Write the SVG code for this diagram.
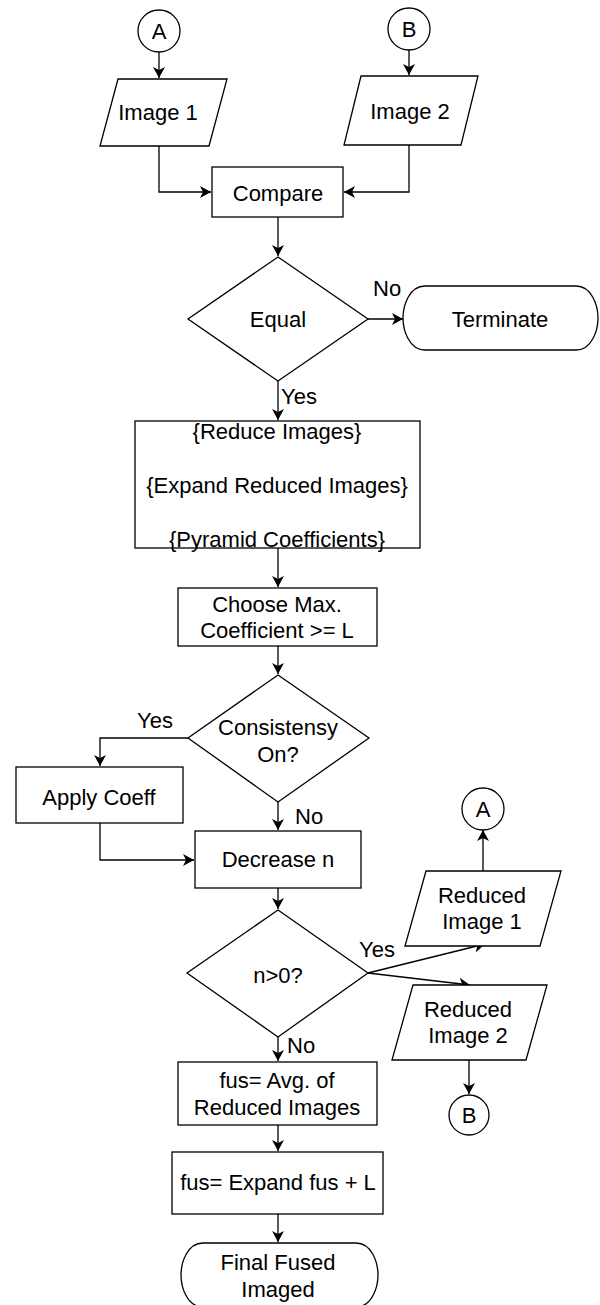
<svg xmlns="http://www.w3.org/2000/svg" width="600" height="1305" viewBox="0 0 600 1305">
<style>
.s{fill:#fff;stroke:#000;stroke-width:1.3}
.c{fill:none;stroke:#000;stroke-width:1.3}
text{font-family:"Liberation Sans",Arial,sans-serif;font-size:22px;fill:#000}
.m{text-anchor:middle}
</style>
<defs>
<marker id="ar" markerUnits="userSpaceOnUse" markerWidth="11" markerHeight="12" viewBox="0 0 11 12" refX="11" refY="6" orient="auto">
<path d="M0,0 L11,6 L0,12 L3,6 Z" fill="#000"/>
</marker>
</defs>
<g id="connectors" class="c">
<path d="M159,52 V78" marker-end="url(#ar)"/>
<path d="M409,50 V75" marker-end="url(#ar)"/>
<path d="M159,146 V192 H211" marker-end="url(#ar)"/>
<path d="M409,145 V192 H344" marker-end="url(#ar)"/>
<path d="M278,217 V256" marker-end="url(#ar)"/>
<path d="M368,319 H403" marker-end="url(#ar)"/>
<path d="M278,381 V420" marker-end="url(#ar)"/>
<path d="M278,548 V587" marker-end="url(#ar)"/>
<path d="M278,646 V674" marker-end="url(#ar)"/>
<path d="M188,738 H100 V766" marker-end="url(#ar)"/>
<path d="M278,802 V830" marker-end="url(#ar)"/>
<path d="M100,823 V860 H194" marker-end="url(#ar)"/>
<path d="M278,888 V909" marker-end="url(#ar)"/>
<path d="M368,973 L485,944" marker-end="url(#ar)"/>
<path d="M368,973 L470,985" marker-end="url(#ar)"/>
<path d="M483,871 V830" marker-end="url(#ar)"/>
<path d="M469,1060 V1094" marker-end="url(#ar)"/>
<path d="M278,1037 V1061" marker-end="url(#ar)"/>
<path d="M278,1125 V1151" marker-end="url(#ar)"/>
<path d="M278,1214 V1242" marker-end="url(#ar)"/>
</g>
<g id="labels">
<text x="373" y="296">No</text>
<text x="281" y="404">Yes</text>
<text x="137" y="728">Yes</text>
<text x="295" y="824">No</text>
<text x="359" y="957">Yes</text>
<text x="287" y="1053">No</text>
</g>
<g id="connA1"><circle class="s" cx="159" cy="31" r="21"/><text class="m" x="159" y="39">A</text></g>
<g id="connB1"><circle class="s" cx="409" cy="29" r="21"/><text class="m" x="409" y="37">B</text></g>
<g id="image1"><polygon class="s" points="118,79 227,79 209,146 100,146"/><text class="m" x="158" y="120">Image 1</text></g>
<g id="image2"><polygon class="s" points="361,76 478,76 461,145 344,145"/><text class="m" x="410" y="119">Image 2</text></g>
<g id="compare"><rect class="s" x="212" y="167" width="131" height="50"/><text class="m" x="278" y="201">Compare</text></g>
<g id="equal"><polygon class="s" points="278,257 368,319 278,381 188,319"/><text class="m" x="278" y="327">Equal</text></g>
<g id="terminate"><path class="s" d="M425,286 H576 C592,286 598,306 598,318 C598,330 592,350 576,350 H425 C409,350 403,330 403,318 C403,306 409,286 425,286 Z"/><text class="m" x="500" y="327">Terminate</text></g>
<g id="reduce"><rect class="s" x="135" y="421" width="285" height="127"/>
<text class="m" x="277" y="439">{Reduce Images}</text>
<text class="m" x="277" y="493">{Expand Reduced Images}</text>
<text class="m" x="277" y="547">{Pyramid Coefficients}</text></g>
<g id="choose"><rect class="s" x="178" y="588" width="199" height="58"/>
<text class="m" x="277" y="612">Choose Max.</text>
<text class="m" x="277" y="638">Coefficient &gt;= L</text></g>
<g id="consist"><polygon class="s" points="278,675 369,738 278,802 188,738"/>
<text class="m" x="278" y="735">Consistensy</text>
<text class="m" x="278" y="762">On?</text></g>
<g id="apply"><rect class="s" x="16" y="767" width="167" height="56"/><text class="m" x="99" y="805">Apply Coeff</text></g>
<g id="decrease"><rect class="s" x="195" y="831" width="166" height="57"/><text class="m" x="278" y="867">Decrease n</text></g>
<g id="ngt0"><polygon class="s" points="278,910 368,973 278,1037 187,973"/><text class="m" x="278" y="983">n&gt;0?</text></g>
<g id="connA2"><circle class="s" cx="483" cy="809" r="21"/><text class="m" x="483" y="817">A</text></g>
<g id="rimage1"><polygon class="s" points="426,871 561,871 540,946 405,946"/>
<text class="m" x="482" y="903">Reduced</text><text class="m" x="482" y="929">Image 1</text></g>
<g id="rimage2"><polygon class="s" points="413,985 547,985 526,1060 392,1060"/>
<text class="m" x="468" y="1017">Reduced</text><text class="m" x="468" y="1043">Image 2</text></g>
<g id="connB2"><circle class="s" cx="469" cy="1115" r="20"/><text class="m" x="469" y="1123">B</text></g>
<g id="avg"><rect class="s" x="178" y="1062" width="199" height="63"/>
<text class="m" x="277" y="1088">fus= Avg. of</text>
<text class="m" x="277" y="1115">Reduced Images</text></g>
<g id="expand"><rect class="s" x="172" y="1152" width="211" height="62"/><text class="m" x="278" y="1190">fus= Expand fus + L</text></g>
<g id="final"><path class="s" d="M203,1243 H356 C372,1243 378,1263 378,1275 C378,1287 372,1307 356,1307 H203 C187,1307 181,1287 181,1275 C181,1263 187,1243 203,1243 Z"/>
<text class="m" x="278" y="1270">Final Fused</text>
<text class="m" x="278" y="1297">Imaged</text></g>
</svg>
